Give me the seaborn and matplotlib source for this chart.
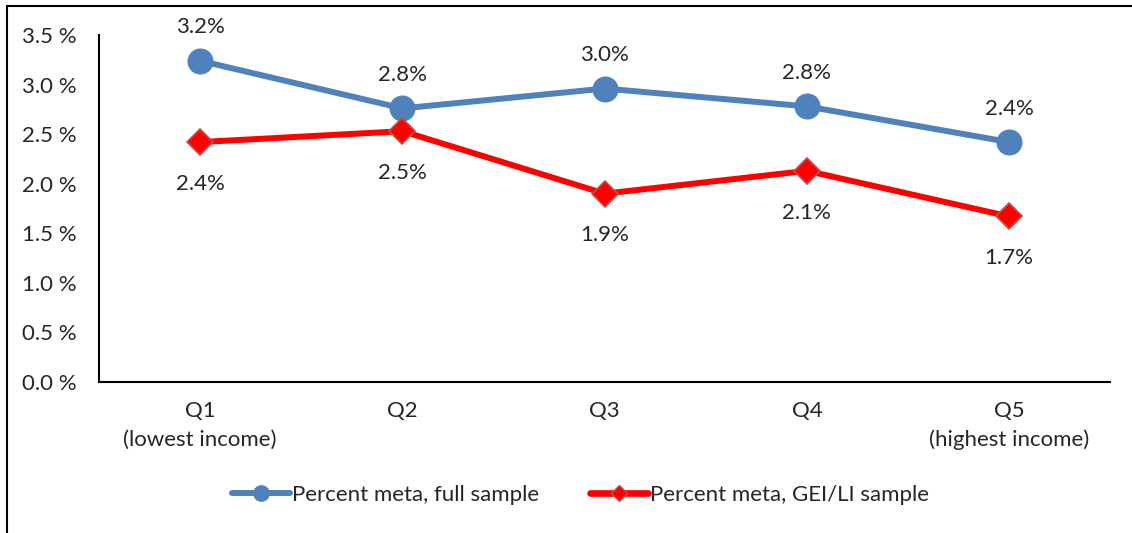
import pandas as pd
import seaborn as sns
import matplotlib.pyplot as plt
from matplotlib.lines import Line2D

quintiles = ["Q1\n(lowest income)", "Q2", "Q3", "Q4", "Q5\n(highest income)"]
full_sample = [3.24, 2.76, 2.96, 2.78, 2.42]
gei_li_sample = [2.42, 2.53, 1.90, 2.13, 1.67]
series_names = ["Percent meta, full sample", "Percent meta, GEI/LI sample"]

sns.set_style("white")
plt.rcParams["font.family"] = ["Lato", "DejaVu Sans"]

df = pd.DataFrame({
    "pos": list(range(len(quintiles))) * 2,
    "value": full_sample + gei_li_sample,
    "series": [series_names[0]] * 5 + [series_names[1]] * 5,
})

fig = plt.figure(figsize=(11.32, 5.33), dpi=100)
ax = fig.add_axes([0.0875, 0.2833, 0.8933, 0.651])

blue = "#4F81BD"
red = "#FF0000"
fs = 16

sns.lineplot(data=df[df.series == series_names[0]], x="pos", y="value",
             color=blue, linewidth=4.3, marker="o", markersize=18,
             markeredgecolor=blue, ax=ax, legend=False)
sns.lineplot(data=df[df.series == series_names[1]], x="pos", y="value",
             color=red, linewidth=4.3, marker="D", markersize=13,
             markeredgecolor="#C0504D", markeredgewidth=1.2, ax=ax, legend=False)

for i, v in enumerate(full_sample):
    ax.annotate(f"{v:.1f}%", (i, v), xytext=(0, 24), textcoords="offset points",
                ha="center", va="center", fontsize=fs)
for i, v in enumerate(gei_li_sample):
    ax.annotate(f"{v:.1f}%", (i, v), xytext=(0, -30), textcoords="offset points",
                ha="center", va="center", fontsize=fs)

ax.set_xlim(-0.5, 4.5)
ax.set_ylim(0, 3.5)
ax.set_xticks(range(len(quintiles)))
ax.set_xticklabels(quintiles, fontsize=fs, linespacing=1.5)
ax.set_yticks([0, 0.5, 1.0, 1.5, 2.0, 2.5, 3.0, 3.5])
ax.set_yticklabels([f"{t:.1f} %" for t in ax.get_yticks()], fontsize=fs)
ax.tick_params(axis="both", length=0)
ax.tick_params(axis="y", pad=16)
ax.tick_params(axis="x", pad=14)
ax.set(xlabel="", ylabel="")
for s in ["top", "right"]:
    ax.spines[s].set_visible(False)
for s in ["left", "bottom"]:
    ax.spines[s].set_color("black")
    ax.spines[s].set_linewidth(1.5)

handles = [
    Line2D([], [], color=blue, linewidth=4.3, marker="o", markersize=11),
    Line2D([], [], color=red, linewidth=4.8, marker="D", markersize=8,
           markeredgecolor="#C0504D"),
]
fig.legend(handles, series_names, loc="center", bbox_to_anchor=(0.513, 0.072),
           ncol=2, frameon=False, fontsize=fs, handlelength=2.6,
           handletextpad=0.1, columnspacing=2.3)

# outer chart frame
fig.add_artist(Line2D([0.0066, 0.0066], [0, 0.989], color="black", linewidth=1.5))
fig.add_artist(Line2D([0.0066, 1.0], [0.989, 0.989], color="black", linewidth=1.5))

fig.savefig("out.png", dpi=100)
